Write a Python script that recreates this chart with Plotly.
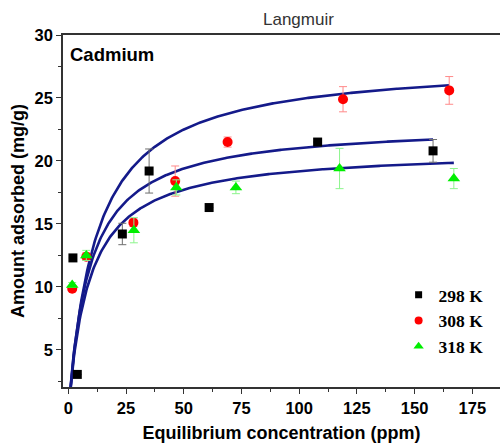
import numpy as np
import plotly.graph_objects as go

# Measured equilibrium data (Ce in ppm, qe in mg/g) with error bars
ce_298 = [2.0, 3.9, 23.4, 35.0, 61.0, 108.0, 158.0]
qe_298 = [12.3, 3.05, 14.2, 19.2, 16.3, 21.5, 20.8]
err_298 = [0.0, 0.0, 0.85, 1.75, 0.0, 0.0, 0.9]

ce_308 = [1.7, 7.8, 28.2, 46.3, 69.0, 119.0, 165.0]
qe_308 = [9.85, 12.4, 15.1, 18.4, 21.5, 24.9, 25.6]
err_308 = [0.2, 0.3, 0.3, 1.2, 0.4, 1.0, 1.1]

ce_318 = [1.7, 7.8, 28.4, 46.8, 72.6, 117.5, 167.0]
qe_318 = [10.15, 12.5, 14.5, 17.9, 17.9, 19.4, 18.6]
err_318 = [0.2, 0.4, 1.0, 0.6, 0.5, 1.6, 0.8]

# Langmuir fit parameters: qm (mg/g), KL (L/mg), upper Ce of the fitted range
fit_qm = {"298 K": 22.96, "308 K": 27.9, "318 K": 20.92}
fit_kl = {"298 K": 0.109, "308 K": 0.0832, "318 K": 0.111}
fit_end = {"298 K": 158.0, "308 K": 165.0, "318 K": 167.0}

series = [
    ("298 K", ce_298, qe_298, err_298, "black", "square", "#6e6e6e", 9, 7),
    ("308 K", ce_308, qe_308, err_308, "#ff0000", "circle", "#ff8a8a", 10, 8),
    ("318 K", ce_318, qe_318, err_318, "#00ee00", "triangle-up", "#8cf58c", 11, 9),
]

fig = go.Figure()

# Fitted Langmuir isotherms
for name, *_ in series:
    ce = np.linspace(0.3, fit_end[name], 400)
    qm, kl = fit_qm[name], fit_kl[name]
    q = qm * kl * ce / (1 + kl * ce)
    fig.add_trace(go.Scatter(
        x=ce, y=q, mode="lines", showlegend=False, hoverinfo="skip",
        line=dict(color="#141a8a", width=2.6),
    ))

# Experimental points
for name, x, y, e, color, symbol, ecolor, size, _ in series:
    fig.add_trace(go.Scatter(
        x=x, y=y, mode="markers", name=name, showlegend=False,
        marker=dict(color=color, symbol=symbol, size=size, line=dict(width=0)),
        error_y=dict(type="data", array=e, visible=True, color=ecolor,
                     thickness=1, width=4),
    ))

# Legend keys with smaller symbols
for name, _, _, _, color, symbol, _, _, lsize in series:
    fig.add_trace(go.Scatter(
        x=[None], y=[None], mode="markers", name=name,
        marker=dict(color=color, symbol=symbol, size=lsize, line=dict(width=0)),
    ))

axis_font = dict(family="Arial, Liberation Sans", size=16.5, color="black", weight="bold")
title_font = dict(family="Arial, Liberation Sans", size=18, color="black", weight="bold")

fig.update_layout(
    width=500, height=446,
    margin=dict(l=63, r=0, t=35, b=59),
    plot_bgcolor="white", paper_bgcolor="white",
    legend=dict(
        x=0.768, y=0.188, xanchor="left", yanchor="middle",
        font=dict(family="Liberation Serif, Times New Roman", size=17.5,
                  color="black", weight="bold"),
        bgcolor="rgba(0,0,0,0)", itemwidth=30, tracegroupgap=0,
    ),
    xaxis=dict(
        range=[-2.3, 187], tickvals=[0, 25, 50, 75, 100, 125, 150, 175],
        ticks="outside", ticklen=5, tickwidth=1.2, tickcolor="#333",
        minor=dict(dtick=12.5, tick0=0, ticks="outside", ticklen=3, tickcolor="#333"),
        showline=True, linecolor="#333", linewidth=1.5, mirror=True,
        showgrid=False, zeroline=False, tickfont=axis_font,
        title=dict(text="Equilibrium concentration (ppm)", font=title_font, standoff=11),
    ),
    yaxis=dict(
        range=[2.05, 30], tickvals=[5, 10, 15, 20, 25, 30],
        ticks="outside", ticklen=5, tickwidth=1.2, tickcolor="#333",
        minor=dict(dtick=2.5, tick0=0, ticks="outside", ticklen=3, tickcolor="#333"),
        showline=True, linecolor="#333", linewidth=1.5,
        showgrid=False, zeroline=False, tickfont=axis_font,
        title=dict(text="Amount adsorbed (mg/g)", font=title_font, standoff=5),
    ),
    annotations=[
        dict(text="Langmuir", xref="paper", yref="paper", x=0.538, y=1.043,
             xanchor="center", yanchor="middle", showarrow=False,
             font=dict(family="Arial, Liberation Sans", size=17, color="#333")),
        dict(text="Cadmium", xref="paper", yref="paper", x=0.012, y=0.946,
             xanchor="left", yanchor="middle", showarrow=False,
             font=dict(family="Arial, Liberation Sans", size=18.5, color="black",
                       weight="bold")),
    ],
)

fig.write_html("out.html")
